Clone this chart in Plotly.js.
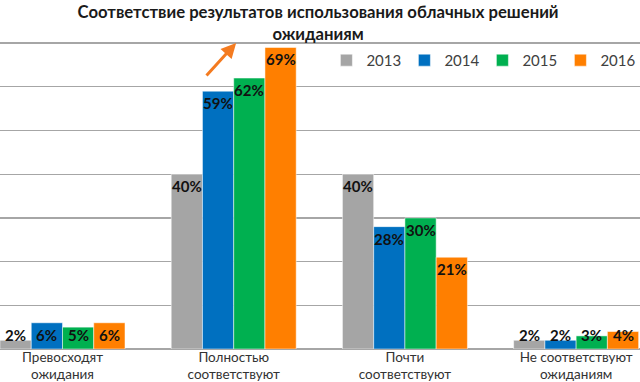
<!DOCTYPE html>
<html><head><meta charset="utf-8">
<script src="https://cdn.plot.ly/plotly-3.0.1.min.js"></script>
<style>html,body{margin:0;padding:0;background:#fff}#chart{width:640px;height:382px}</style>
</head><body><div id="chart"></div>
<script>
var categories = ["Превосходят<br>ожидания", "Полностью<br>соответствуют", "Почти<br>соответствуют", "Не соответствуют<br>ожиданиям"];
var years = ["2013", "2014", "2015", "2016"];
var v2013 = [2, 40, 40, 2];
var v2014 = [6, 59, 28, 2];
var v2015 = [5, 62, 30, 3];
var v2016 = [6, 69, 21, 4];
var colors = ["#A5A5A5", "#0070C0", "#00B050", "#FF7F00"];
var series = [v2013, v2014, v2015, v2016];
var idx = [0, 1, 2, 3];
var bargap = 0.27;

var traces = series.map(function (vals, s) {
  return {
    type: "bar", name: years[s], x: idx, y: vals,
    marker: { color: colors[s], line: { color: "#ffffff", width: 0.5 } },
    hoverinfo: "none"
  };
});

var annotations = [];
var w = (1 - bargap) / 4;
series.forEach(function (vals, s) {
  vals.forEach(function (v, i) {
    annotations.push({
      x: i + (s - 1.5) * w, y: Math.max(v, 6), xref: "x", yref: "y",
      text: "<b>" + v + "%</b>", showarrow: false, yshift: -12,
      font: { family: "Lato, sans-serif", size: 15, color: "#111111" }
    });
  });
});
annotations.push({
  xref: "paper", yref: "paper", x: 0.369, y: 0.997, ax: -31, ay: 34,
  showarrow: true, arrowhead: 2, arrowsize: 1, arrowwidth: 3, arrowcolor: "#F47B20", text: ""
});

var layout = {
  width: 640, height: 382,
  margin: { l: 0, r: 0, t: 42, b: 33, autoexpand: false },
  paper_bgcolor: "#ffffff", plot_bgcolor: "#ffffff",
  barmode: "group", bargap: bargap, bargroupgap: 0,
  title: {
    text: "<b>Соответствие результатов использования облачных решений<br>ожиданиям</b>",
    x: 0.497, xanchor: "center", y: 0.952, yanchor: "middle",
    font: { family: "Lato, sans-serif", size: 16.7, color: "#1a1a1a" }
  },
  xaxis: {
    range: [-0.365, 3.373], tickvals: idx, ticktext: categories,
    showgrid: false, zeroline: false, showline: false, ticks: "",
    ticklabelstandoff: -2,
    tickfont: { family: "Lato, sans-serif", size: 13.5, color: "#333333" }
  },
  yaxis: {
    range: [0, 70.25], tickvals: [10, 20, 30, 40, 50, 60, 70], showticklabels: false, showgrid: true,
    gridcolor: "#a6a6a6", gridwidth: 1.2, zeroline: true, zerolinecolor: "#a6a6a6", zerolinewidth: 1.2,
    showline: false
  },
  legend: {
    orientation: "h", x: 0.51, xanchor: "left", y: 0.94, yanchor: "middle",
    font: { family: "Lato, sans-serif", size: 15, color: "#404040" },
    itemwidth: 30, entrywidth: 33, entrywidthmode: "pixels", bgcolor: "rgba(0,0,0,0)"
  },
  annotations: annotations,
  showlegend: true
};
Plotly.newPlot("chart", traces, layout, { displayModeBar: false, staticPlot: true });
</script></body></html>
